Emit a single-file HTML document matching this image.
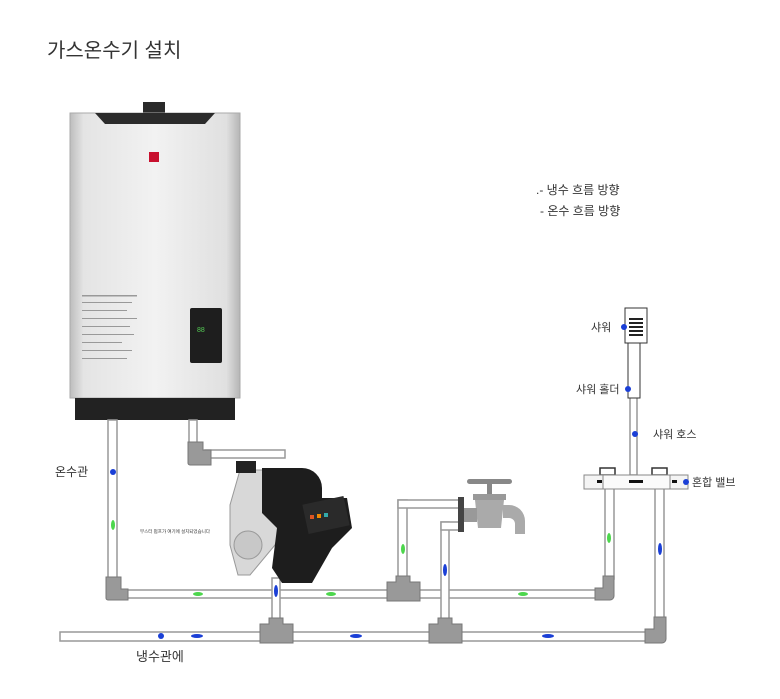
<!DOCTYPE html>
<html><head><meta charset="utf-8"><style>
html,body{margin:0;padding:0;background:#fff;}
svg{display:block;}
text{font-family:"Liberation Sans","Noto Sans CJK KR",sans-serif;fill:#333;}
</style></head><body>
<svg width="780" height="699" viewBox="0 0 780 699" xmlns="http://www.w3.org/2000/svg">
<defs>
<linearGradient id="body" x1="0" x2="1" y1="0" y2="0">
<stop offset="0" stop-color="#bdbdbd"/><stop offset="0.08" stop-color="#e4e4e4"/><stop offset="0.5" stop-color="#f2f2f2"/><stop offset="0.92" stop-color="#e0e0e0"/><stop offset="1" stop-color="#b5b5b5"/>
</linearGradient>
</defs>
<text x="47" y="57" font-size="20">가스온수기 설치</text>

<!-- heater -->
<rect x="143" y="102" width="22" height="14" fill="#2a2a2a"/>
<rect x="70" y="113" width="170" height="285" fill="url(#body)" stroke="#aaa"/>
<path d="M95 113 L215 113 L205 124 L105 124 Z" fill="#2b2b2b"/>
<rect x="149" y="152" width="10" height="10" fill="#c8102e"/>
<rect x="190" y="308" width="32" height="55" rx="2" fill="#1e1e1e"/>
<text x="197" y="332" font-size="7" fill="#3c3" style="fill:#5c5">88</text>
<g fill="#999"><rect x="82" y="295" width="55" height="1.5"/><rect x="82" y="302" width="50" height="1"/><rect x="82" y="310" width="45" height="1"/><rect x="82" y="318" width="55" height="1"/><rect x="82" y="326" width="48" height="1"/><rect x="82" y="334" width="52" height="1"/><rect x="82" y="342" width="40" height="1"/><rect x="82" y="350" width="50" height="1"/><rect x="82" y="358" width="45" height="1"/></g>
<rect x="75" y="398" width="160" height="22" fill="#222"/>

<!-- pipes style -->
<g fill="#fff" stroke="#999" stroke-width="1.5">
<!-- hot left vertical -->
<rect x="108" y="420" width="9" height="160"/>
<rect x="189" y="420" width="8" height="25"/>
<rect x="205" y="450" width="80" height="8"/>
<!-- hot horizontal -->
<rect x="126" y="590" width="472" height="8"/>
<!-- cold horizontal -->
<rect x="60" y="632" width="590" height="9"/>
<!-- verticals -->
<rect x="272" y="578" width="8" height="44"/>
<rect x="398" y="500" width="9" height="80"/>
<rect x="398" y="500" width="62" height="8"/>
<rect x="441" y="522" width="8" height="100"/>
<rect x="441" y="522" width="19" height="8"/>
<rect x="605" y="487" width="9" height="92"/>
<rect x="655" y="487" width="9" height="135"/>
<rect x="630" y="397" width="7" height="78"/>
</g>
<!-- fittings -->
<g fill="#999" stroke="#777" stroke-width="1">
<path d="M106 577 h15 v12 h7 v11 h-20 a2 2 0 0 1 -2 -2 Z"/>
<path d="M188 442 h15 v8 h8 v15 h-21 a2 2 0 0 1 -2 -2 Z"/>
<path d="M595 600 h15 a4 4 0 0 0 4 -4 v-20 h-11 v12 h-8 Z"/>
<path d="M645 643 h17 a4 4 0 0 0 4 -4 v-22 h-12 v12 h-9 Z"/>
<path d="M260 624 h9 v-6 h14 v6 h10 v19 h-33 Z"/>
<path d="M429 624 h9 v-6 h14 v6 h10 v19 h-33 Z"/>
<path d="M387 582 h9 v-6 h14 v6 h10 v19 h-33 Z"/>
</g>

<!-- pump -->
<path d="M240 470 h30 l10 10 l0 50 l-5 15 l-25 30 l-12 0 l-8 -30 v-40 Z" fill="#d8d8d8" stroke="#999"/>
<circle cx="248" cy="545" r="14" fill="#c8c8c8" stroke="#999"/>
<path d="M262 468 h40 a20 20 0 0 1 20 20 v10 l25 0 l5 30 l-20 20 l-20 35 h-30 l-10 -15 l5 -40 l-15 -15 Z" fill="#1d1d1d"/>
<rect x="305" y="500" width="42" height="30" fill="#2a2a2a" transform="rotate(-12 326 515)"/>
<rect x="310" y="515" width="4" height="4" fill="#d52"/><rect x="317" y="514" width="4" height="4" fill="#e80"/><rect x="324" y="513" width="4" height="4" fill="#3aa"/>
<rect x="236" y="461" width="20" height="12" fill="#222"/>

<!-- faucet -->
<rect x="467" y="479" width="45" height="5" rx="2.5" fill="#888"/>
<rect x="487" y="482" width="5" height="14" fill="#888"/>
<rect x="473" y="494" width="33" height="6" fill="#999"/>
<path d="M475 500 h29 l-3 28 h-23 Z" fill="#aaa"/>
<rect x="463" y="508" width="14" height="14" fill="#999"/>
<path d="M503 505 h6 a16 16 0 0 1 16 16 v13 h-10 v-10 a6 6 0 0 0 -6 -6 h-6 Z" fill="#aaa"/>
<rect x="458" y="497" width="6" height="35" fill="#444"/>

<!-- mixing valve -->
<rect x="600" y="468" width="15" height="7" fill="#fff" stroke="#333" stroke-width="1.5"/>
<rect x="652" y="468" width="15" height="7" fill="#fff" stroke="#333" stroke-width="1.5"/>
<rect x="584" y="475" width="104" height="14" fill="#f4f4f4" stroke="#888"/>
<rect x="603" y="475" width="67" height="14" fill="#fafafa" stroke="#888"/>
<rect x="597" y="480" width="5" height="3" fill="#111"/><rect x="629" y="480" width="14" height="3" fill="#111"/><rect x="672" y="480" width="5" height="3" fill="#111"/>

<!-- shower -->
<rect x="628" y="343" width="12" height="55" fill="#fff" stroke="#333"/>
<rect x="625" y="308" width="22" height="35" fill="#fff" stroke="#333"/>
<g fill="#222">
<rect x="629" y="318" width="14" height="2"/><rect x="629" y="322" width="14" height="2"/><rect x="629" y="326" width="14" height="2"/><rect x="629" y="330" width="14" height="2"/><rect x="629" y="334" width="14" height="2"/>
</g>

<!-- dots -->
<g fill="#1a3fd6">
<circle cx="113" cy="472" r="3"/><circle cx="161" cy="636" r="3"/><circle cx="624" cy="327" r="3"/><circle cx="628" cy="389" r="3"/><circle cx="635" cy="434" r="3"/><circle cx="686" cy="482" r="3"/>
</g>
<!-- arrows -->
<g fill="#4cd64c">
<ellipse cx="113" cy="525" rx="2" ry="5"/><ellipse cx="198" cy="594" rx="5" ry="2"/><ellipse cx="331" cy="594" rx="5" ry="2"/><ellipse cx="523" cy="594" rx="5" ry="2"/><ellipse cx="403" cy="549" rx="2" ry="5"/><ellipse cx="609" cy="538" rx="2" ry="5"/>
</g>
<g fill="#1a3fd6">
<ellipse cx="276" cy="591" rx="2" ry="6"/><ellipse cx="445" cy="570" rx="2" ry="6"/><ellipse cx="660" cy="549" rx="2" ry="6"/><ellipse cx="197" cy="636" rx="6" ry="2"/><ellipse cx="356" cy="636" rx="6" ry="2"/><ellipse cx="548" cy="636" rx="6" ry="2"/>
</g>

<!-- labels -->
<text x="55" y="476" font-size="12">온수관</text>
<text x="136" y="661" font-size="13">냉수관에</text>
<text x="140" y="533" font-size="4.5">부스터 펌프가 여기에 설치되었습니다</text>
<text x="536" y="194" font-size="12">.- 냉수 흐름 방향</text>
<text x="540" y="215" font-size="12">- 온수 흐름 방향</text>
<text x="591" y="331" font-size="11">샤워</text>
<text x="576" y="393" font-size="11">샤워 홀더</text>
<text x="653" y="438" font-size="11">샤워 호스</text>
<text x="692" y="486" font-size="11">혼합 밸브</text>
</svg>
</body></html>
